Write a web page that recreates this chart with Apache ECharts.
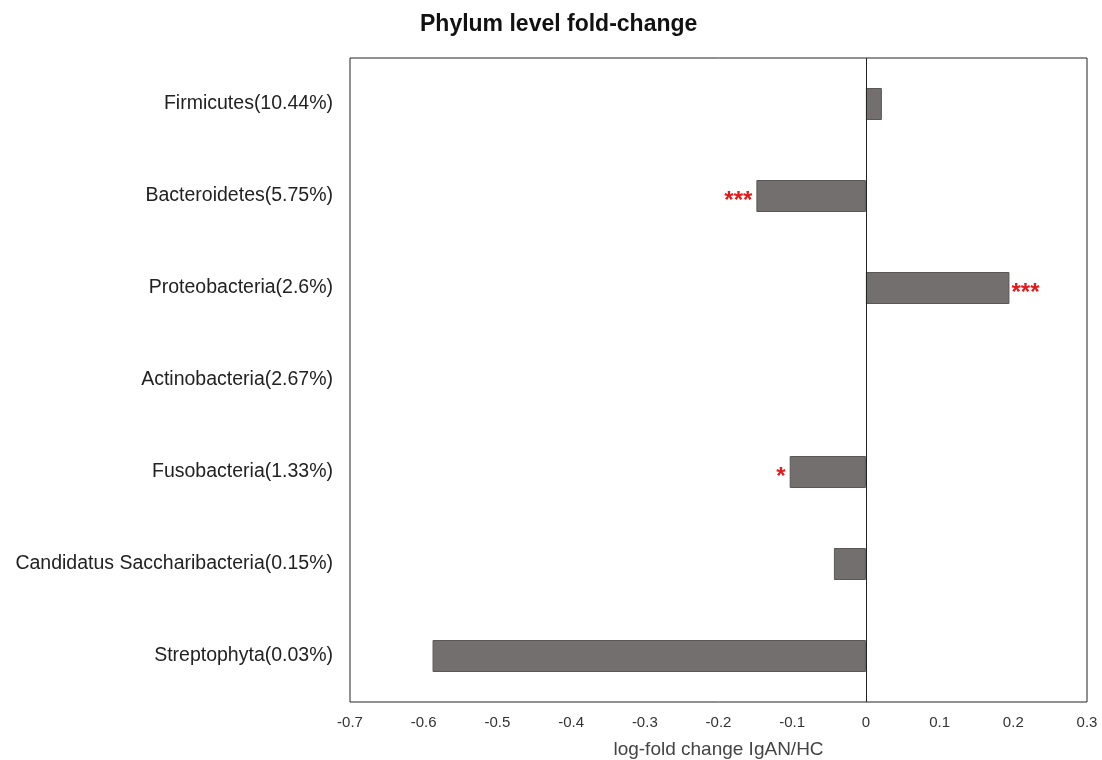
<!DOCTYPE html>
<html>
<head>
<meta charset="utf-8">
<script src="https://cdn.jsdelivr.net/npm/echarts@6/dist/echarts.min.js"></script>
<style>html,body{margin:0;padding:0;background:#fff;}#c{width:1102px;height:760px;}</style>
</head>
<body>
<div id="c"></div>
<script>
var categories = ["Firmicutes(10.44%)", "Bacteroidetes(5.75%)", "Proteobacteria(2.6%)", "Actinobacteria(2.67%)", "Fusobacteria(1.33%)", "Candidatus Saccharibacteria(0.15%)", "Streptophyta(0.03%)"];
var values = [0.0217, -0.1486, 0.1948, 0, -0.1034, -0.0434, -0.588];
var significance = ["", "***", "***", "", "*", "", ""];
var xTicks = [-0.7, -0.6, -0.5, -0.4, -0.3, -0.2, -0.1, 0, 0.1, 0.2, 0.3];

var chart = echarts.init(document.getElementById('c'));
var data = values.map(function (v, i) {
  return {
    value: v,
    itemStyle: v === 0 ? {borderWidth: 0, opacity: 0} : undefined,
    label: {
      show: significance[i] !== "",
      position: v >= 0 ? 'right' : 'left',
      distance: v >= 0 ? 2 : 4,
      formatter: significance[i],
      color: '#e31a1c',
      fontSize: 24,
      fontWeight: 'bold',
      fontFamily: 'Liberation Sans, Arial, sans-serif',
      offset: [0, 5]
    }
  };
});
chart.setOption({
  animation: false,
  title: {
    text: 'Phylum level fold-change',
    left: 415, top: 8,
    textStyle: {fontSize: 23, fontWeight: 'bold', color: '#111', fontFamily: 'Liberation Sans, Arial, sans-serif'}
  },
  grid: {left: 350, right: 15, top: 58, bottom: 58, outerBoundsMode: 'none', show: true, borderColor: '#222', borderWidth: 1, backgroundColor: 'transparent'},
  xAxis: {
    type: 'value', min: -0.7, max: 0.3, interval: 0.1,
    axisLine: {show: false}, axisTick: {show: false}, splitLine: {show: false},
    axisLabel: {color: '#333', fontSize: 15, margin: 13, fontFamily: 'Liberation Sans, Arial, sans-serif',
      formatter: function (v) { var r = Math.round(v * 10) / 10; return r === 0 ? '0' : String(r); }},
    name: 'log-fold change IgAN/HC', nameLocation: 'middle', nameGap: 38,
    nameTextStyle: {color: '#444', fontSize: 19, fontFamily: 'Liberation Sans, Arial, sans-serif'}
  },
  yAxis: {
    type: 'category', data: categories, inverse: true,
    axisLine: {show: false}, axisTick: {show: false}, splitLine: {show: false},
    axisLabel: {color: '#222', fontSize: 19.5, margin: 17, fontFamily: 'Liberation Sans, Arial, sans-serif'}
  },
  series: [{
    type: 'bar', data: data, barWidth: 32,
    itemStyle: {color: '#736f6e', borderColor: '#5c5858', borderWidth: 1},
    markLine: {
      silent: true, symbol: 'none', label: {show: false},
      lineStyle: {color: '#222', type: 'solid', width: 1},
      data: [{xAxis: 0}]
    }
  }]
});
</script>
</body>
</html>
